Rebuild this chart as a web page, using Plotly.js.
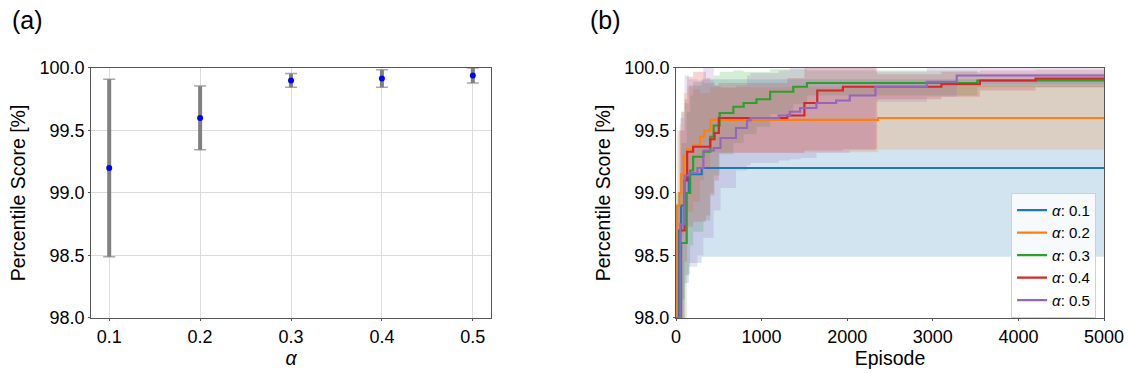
<!DOCTYPE html>
<html>
<head>
<meta charset="utf-8">
<script src="https://cdn.plot.ly/plotly-3.0.1.min.js"></script>
<style>html,body{margin:0;padding:0;background:#fff;}#chart{width:1135px;height:373px;}</style>
</head>
<body>
<div id="chart"></div>
<script>
// ---------- Panel (a) ----------
const alphas = [0.1, 0.2, 0.3, 0.4, 0.5];
const finalMean = [99.2, 99.6, 99.9, 99.915, 99.94];
const finalStd = [0.71, 0.255, 0.055, 0.07, 0.06];

// ---------- Panel (b) : step curves (episode breakpoints, mean, std) ----------
const seriesNames = ['<i>α</i>: 0.1', '<i>α</i>: 0.2', '<i>α</i>: 0.3', '<i>α</i>: 0.4', '<i>α</i>: 0.5'];
const seriesColors = ['#1f77b4', '#ff7f0e', '#2ca02c', '#d62728', '#9467bd'];
const fillColors = ['rgba(31,119,180,0.2)', 'rgba(255,127,14,0.2)', 'rgba(44,160,44,0.2)', 'rgba(214,39,40,0.2)', 'rgba(148,103,189,0.2)'];

const ep01 = [0, 30, 60, 100, 150, 300, 5000];
const mean01 = [98.0, 98.7, 98.9, 99.0, 99.15, 99.2, 99.2];
const std01 = [0.9, 0.8, 0.75, 0.72, 0.71, 0.71, 0.71];

const ep02 = [0, 10, 40, 60, 90, 130, 200, 280, 330, 400, 2360, 5000];
const mean02 = [98.0, 98.9, 99.0, 99.15, 99.3, 99.35, 99.38, 99.45, 99.5, 99.585, 99.6, 99.6];
const std02 = [0.8, 0.6, 0.55, 0.5, 0.5, 0.5, 0.45, 0.35, 0.3, 0.26, 0.255, 0.255];

const ep03 = [0, 60, 125, 165, 200, 320, 400, 440, 510, 670, 790, 940, 1100, 1370, 1530, 3520, 5000];
const mean03 = [98.0, 98.6, 99.0, 99.18, 99.29, 99.33, 99.45, 99.54, 99.64, 99.69, 99.72, 99.75, 99.81, 99.85, 99.88, 99.9, 99.9];
const std03 = [1.0, 0.8, 0.65, 0.6, 0.6, 0.55, 0.45, 0.4, 0.33, 0.29, 0.25, 0.22, 0.18, 0.14, 0.1, 0.055, 0.055];

const ep04 = [0, 50, 100, 130, 200, 350, 400, 450, 500, 1300, 1500, 1650, 1950, 2350, 3100, 3550, 4200, 5000];
const mean04 = [98.0, 98.7, 99.1, 99.33, 99.37, 99.37, 99.43, 99.48, 99.6, 99.62, 99.72, 99.82, 99.85, 99.85, 99.87, 99.9, 99.915, 99.915];
const std04 = [0.9, 0.8, 0.65, 0.6, 0.6, 0.55, 0.45, 0.38, 0.28, 0.3, 0.38, 0.48, 0.5, 0.1, 0.1, 0.08, 0.07, 0.07];

const ep05 = [0, 50, 100, 150, 250, 320, 440, 520, 700, 830, 870, 1200, 1330, 1450, 1640, 1870, 2030, 2330, 2930, 3280, 5000];
const mean05 = [98.0, 98.75, 99.14, 99.16, 99.2, 99.34, 99.36, 99.44, 99.52, 99.58, 99.6, 99.62, 99.65, 99.68, 99.72, 99.74, 99.78, 99.85, 99.89, 99.94, 99.94];
const std05 = [0.9, 0.85, 0.8, 0.75, 0.7, 0.7, 0.5, 0.4, 0.34, 0.36, 0.36, 0.36, 0.38, 0.4, 0.4, 0.42, 0.44, 0.12, 0.12, 0.07, 0.06];

const epAll = [ep01, ep02, ep03, ep04, ep05];
const meanAll = [mean01, mean02, mean03, mean04, mean05];
const stdAll = [std01, std02, std03, std04, std05];

const FONT = 'Liberation Sans, Arial, sans-serif';
const traces = [];

// Panel (a): thick error bars (no caps) + thin light caps + points
traces.push({
  type: 'scatter', mode: 'markers', x: alphas, y: finalMean,
  xaxis: 'x', yaxis: 'y', showlegend: false, hoverinfo: 'skip',
  marker: {color: 'rgba(0,0,0,0)', size: 1},
  error_y: {type: 'data', array: finalStd, visible: true, color: '#a8a8a8', thickness: 1.5, width: 6}
});
traces.push({
  type: 'scatter', mode: 'markers', x: alphas, y: finalMean,
  xaxis: 'x', yaxis: 'y', showlegend: false,
  marker: {color: '#0000ff', size: 6},
  error_y: {type: 'data', array: finalStd, visible: true, color: '#808080', thickness: 4, width: 0}
});

// Panel (b): bands
for (let i = 0; i < 5; i++) {
  const lo = meanAll[i].map((m, k) => m - stdAll[i][k]);
  const hi = meanAll[i].map((m, k) => m + stdAll[i][k]);
  traces.push({type: 'scatter', mode: 'lines', x: epAll[i], y: lo, xaxis: 'x2', yaxis: 'y2',
    line: {width: 0, shape: 'hv'}, showlegend: false, hoverinfo: 'skip'});
  traces.push({type: 'scatter', mode: 'lines', x: epAll[i], y: hi, xaxis: 'x2', yaxis: 'y2',
    line: {width: 0, shape: 'hv'}, fill: 'tonexty', fillcolor: fillColors[i], showlegend: false, hoverinfo: 'skip'});
}
// Panel (b): mean lines
for (let i = 0; i < 5; i++) {
  traces.push({type: 'scatter', mode: 'lines', x: epAll[i], y: meanAll[i], xaxis: 'x2', yaxis: 'y2',
    name: seriesNames[i], line: {color: seriesColors[i], width: 2.2, shape: 'hv'}});
}

const tickFont = {family: FONT, size: 18, color: '#000'};
const titleFont = {family: FONT, size: 19.5, color: '#000'};
const frame = {showline: true, mirror: true, linecolor: '#555', linewidth: 1, ticks: 'outside', ticklen: 2, tickcolor: '#555', zeroline: false, tickfont: tickFont};

const layout = {
  width: 1135, height: 373,
  margin: {l: 0, r: 0, t: 0, b: 0},
  paper_bgcolor: '#fff', plot_bgcolor: '#fff',
  font: {family: FONT, color: '#000'},
  xaxis: Object.assign({}, frame, {domain: [0.0802, 0.4326], range: [0.08, 0.52], tickvals: alphas, ticktext: ['0.1','0.2','0.3','0.4','0.5'],
    showgrid: true, gridcolor: '#dcdcdc', anchor: 'y',
    title: {text: '<i>α</i>', font: titleFont, standoff: 0}}),
  yaxis: Object.assign({}, frame, {domain: [0.1475, 0.8177], range: [98.0, 100.0], dtick: 0.5, tickformat: '.1f',
    showgrid: true, gridcolor: '#dcdcdc', anchor: 'x',
    title: {text: 'Percentile Score [%]', font: titleFont, standoff: 8}}),
  xaxis2: Object.assign({}, frame, {domain: [0.5956, 0.9727], range: [0, 5000], dtick: 1000, showgrid: false, anchor: 'y2',
    title: {text: 'Episode', font: titleFont, standoff: 0}}),
  yaxis2: Object.assign({}, frame, {domain: [0.1475, 0.8177], range: [98.0, 100.0], dtick: 0.5, tickformat: '.1f', showgrid: false, anchor: 'x2',
    title: {text: 'Percentile Score [%]', font: titleFont, standoff: 8}}),
  legend: {x: 0.9657, y: 0.483, xanchor: 'right', yanchor: 'top', bgcolor: 'rgba(255,255,255,0.8)', bordercolor: '#d0d0d0', borderwidth: 1,
    font: {family: FONT, size: 15, color: '#000'}, tracegroupgap: 0, traceorder: 'normal', itemwidth: 30},
  annotations: [
    {text: '(a)', x: 0.009, y: 0.99, xref: 'paper', yref: 'paper', xanchor: 'left', yanchor: 'top', showarrow: false, font: {family: FONT, size: 25, color: '#000'}},
    {text: '(b)', x: 0.518, y: 0.99, xref: 'paper', yref: 'paper', xanchor: 'left', yanchor: 'top', showarrow: false, font: {family: FONT, size: 25, color: '#000'}}
  ]
};

Plotly.newPlot('chart', traces, layout, {displayModeBar: false, staticPlot: true});
</script>
</body>
</html>
